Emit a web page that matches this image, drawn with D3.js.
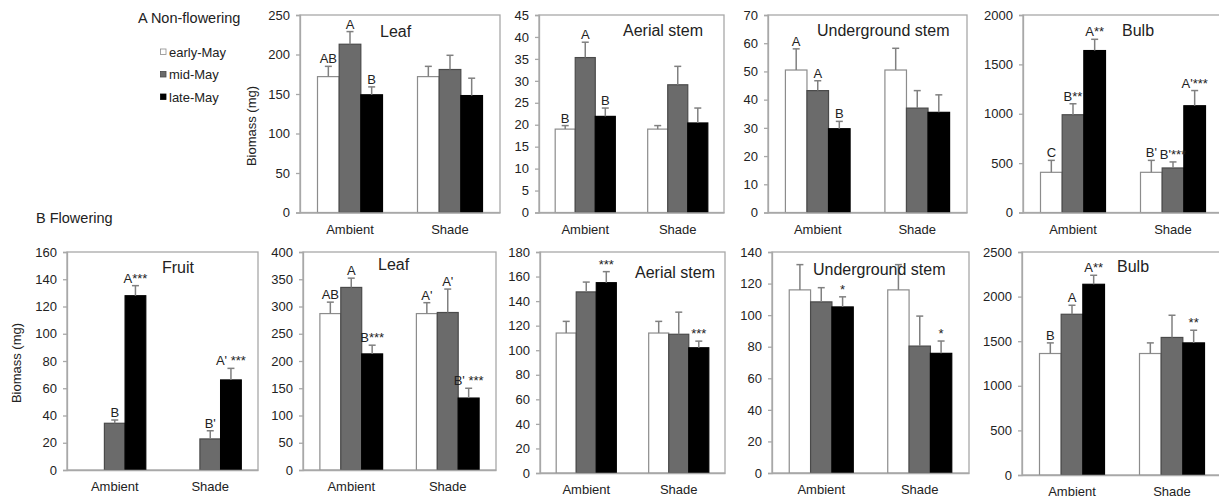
<!DOCTYPE html>
<html>
<head>
<meta charset="utf-8">
<script src="https://cdn.jsdelivr.net/npm/d3@7"></script>
<style>
  body { margin: 0; background: #fff; }
  svg text { font-family: "Liberation Sans", Arial, sans-serif; }
</style>
</head>
<body>
<div id="chart"></div>
<script>
// treatments and sampling dates
var groups = ["Ambient", "Shade"];
var periods = ["early-May", "mid-May", "late-May"];

// panel order: non-flowering leaf, aerial stem, underground stem, bulb,
// flowering fruit, leaf, aerial stem, underground stem, bulb
var panelTitles = ["Leaf", "Aerial stem", "Underground stem", "Bulb",
                   "Fruit", "Leaf", "Aerial stem", "Underground stem", "Bulb"];

var ambientMeans = [
  [172, 213, 149], [19, 35.3, 21.9], [50.5, 43.2, 29.7], [407, 990, 1640],
  [null, 34.3, 127.9], [287, 335, 213], [114, 147.5, 155], [116, 108.4, 105.2], [1362, 1802, 2138]
];
var ambientSE = [
  [13, 16, 10], [0.8, 3.5, 1.9], [7.5, 3.5, 2.6], [121, 111, 114],
  [null, 2.4, 7.4], [21, 17, 16], [9.5, 8, 9], [16, 9, 6.4], [119, 101, 101]
];
var shadeMeans = [
  [172, 181, 148], [19, 29.1, 20.4], [50.5, 37, 35.5], [407, 451, 1081],
  [null, 22.8, 66.1], [287, 289, 132], [114, 113, 102], [116, 80.4, 75.8], [1362, 1542, 1481]
];
var shadeSE = [
  [13, 18, 22], [0.8, 4.2, 3.4], [7.7, 6.2, 6.2], [121, 61, 154],
  [null, 6, 8.5], [20, 43, 18], [9.5, 18, 5.4], [16, 19, 7.8], [119, 249, 142]
];
var ambientLetters = [
  ["AB", "A", "B"], ["B", "A", "B"], ["A", "A", "B"], ["C", "B**", "A**"],
  ["", "B", "A***"], ["AB", "A", "B***"], ["", "", "***"], ["", "", "*"], ["B", "A", "A**"]
];
var shadeLetters = [
  ["", "", ""], ["", "", ""], ["", "", ""], ["B'", "B'***", "A'***"],
  ["", "B'", "A' ***"], ["A'", "A'", "B' ***"], ["", "", "***"], ["", "", "*"], ["", "", "**"]
];
var yTicks = [
  [0, 50, 100, 150, 200, 250],
  [0, 5, 10, 15, 20, 25, 30, 35, 40, 45],
  [0, 10, 20, 30, 40, 50, 60, 70],
  [0, 500, 1000, 1500, 2000],
  [0, 20, 40, 60, 80, 100, 120, 140, 160],
  [0, 50, 100, 150, 200, 250, 300, 350, 400],
  [0, 20, 40, 60, 80, 100, 120, 140, 160, 180],
  [0, 20, 40, 60, 80, 100, 120, 140],
  [0, 500, 1000, 1500, 2000, 2500]
];

// plot boxes on the page (layout only)
var boxes = [
  { x0: 300, x1: 500, y0: 15, y1: 212.5, tx: 380, ty: 37 },
  { x0: 539, x1: 724, y0: 15, y1: 212.5, tx: 623, ty: 36 },
  { x0: 768, x1: 967, y0: 15, y1: 212.5, tx: 817, ty: 36 },
  { x0: 1023, x1: 1223, y0: 15, y1: 212.5, tx: 1122, ty: 36 },
  { x0: 67, x1: 258, y0: 252, y1: 470, tx: 162, ty: 273 },
  { x0: 303, x1: 496, y0: 252, y1: 470, tx: 378, ty: 270 },
  { x0: 540, x1: 725, y0: 252, y1: 473, tx: 635, ty: 278 },
  { x0: 772, x1: 969, y0: 252, y1: 473, tx: 813, ty: 275 },
  { x0: 1022, x1: 1222, y0: 252, y1: 475, tx: 1117, ty: 272 }
];

var fills = { "early-May": "#ffffff", "mid-May": "#6b6b6b", "late-May": "#000000" };
var strokes = { "early-May": "#8c8c8c", "mid-May": "#4a4a4a", "late-May": "#000000" };
var frameColor = "#a8a8a8";

var svg = d3.select("#chart").append("svg")
  .attr("width", 1219)
  .attr("height", 500);

function drawPanel(i) {
  var b = boxes[i];
  var g = svg.append("g");

  var y = d3.scaleLinear()
    .domain([0, d3.max(yTicks[i])])
    .range([b.y1, b.y0]);

  var x = d3.scaleBand()
    .domain(groups)
    .range([b.x0, b.x1])
    .paddingInner(0.35)
    .paddingOuter(0.175);

  var xs = d3.scaleBand()
    .domain(periods)
    .range([0, x.bandwidth()]);

  // frame
  g.append("rect")
    .attr("x", b.x0).attr("y", b.y0)
    .attr("width", b.x1 - b.x0).attr("height", b.y1 - b.y0)
    .attr("fill", "none")
    .attr("stroke", frameColor)
    .attr("stroke-width", 1.3);

  var rows = [];
  groups.forEach(function (grp, gi) {
    var means = gi == 0 ? ambientMeans[i] : shadeMeans[i];
    var ses = gi == 0 ? ambientSE[i] : shadeSE[i];
    var letters = gi == 0 ? ambientLetters[i] : shadeLetters[i];
    periods.forEach(function (p, pi) {
      if (means[pi] == null) return;
      rows.push({ group: grp, period: p, mean: means[pi], se: ses[pi], label: letters[pi] });
    });
  });

  g.selectAll(".bar")
    .data(rows)
    .enter().append("rect")
    .attr("class", "bar")
    .attr("x", function (d) { return x(d.group) + xs(d.period); })
    .attr("y", function (d) { return y(d.mean); })
    .attr("width", xs.bandwidth())
    .attr("height", function (d) { return y(0) - y(d.mean); })
    .attr("fill", function (d) { return fills[d.period]; })
    .attr("stroke", function (d) { return strokes[d.period]; })
    .attr("stroke-width", 1.2);

  var cx = function (d) { return x(d.group) + xs(d.period) + xs.bandwidth() / 2; };

  // error bars (upper half only)
  g.selectAll(".err")
    .data(rows)
    .enter().append("line")
    .attr("class", "err")
    .attr("x1", cx).attr("x2", cx)
    .attr("y1", function (d) { return y(d.mean); })
    .attr("y2", function (d) { return y(d.mean + d.se); })
    .attr("stroke", "#808080")
    .attr("stroke-width", 1.5);

  g.selectAll(".cap")
    .data(rows)
    .enter().append("line")
    .attr("class", "cap")
    .attr("x1", function (d) { return cx(d) - 3.5; })
    .attr("x2", function (d) { return cx(d) + 3.5; })
    .attr("y1", function (d) { return y(d.mean + d.se); })
    .attr("y2", function (d) { return y(d.mean + d.se); })
    .attr("stroke", "#808080")
    .attr("stroke-width", 1.5);

  g.selectAll(".sig")
    .data(rows.filter(function (d) { return d.label != ""; }))
    .enter().append("text")
    .attr("class", "sig")
    .attr("x", cx)
    .attr("y", function (d) { return y(d.mean + d.se) - 3; })
    .attr("text-anchor", "middle")
    .attr("font-size", "13px")
    .attr("fill", "#222")
    .text(function (d) { return d.label; });

  // axes
  var ya = g.append("g")
    .attr("transform", "translate(" + b.x0 + ",0)")
    .call(d3.axisLeft(y).tickValues(yTicks[i]).tickFormat(d3.format("d")).tickSize(4).tickPadding(6));
  ya.selectAll("path, line").attr("stroke", frameColor).attr("stroke-width", 1.3);
  ya.selectAll("text").attr("font-size", "13px").attr("fill", "#222");

  var xa = g.append("g")
    .attr("transform", "translate(0," + b.y1 + ")")
    .call(d3.axisBottom(x).tickSize(0).tickPadding(12));
  xa.select(".domain").attr("stroke", frameColor).attr("stroke-width", 1.3);
  xa.selectAll("text").attr("font-size", "13px").attr("fill", "#222");

  g.append("text")
    .attr("x", b.tx)
    .attr("y", b.ty)
    .attr("font-size", "16px")
    .attr("fill", "#222")
    .text(panelTitles[i]);
}

for (var i = 0; i < panelTitles.length; i++) {
  drawPanel(i);
}

// row headings
svg.append("text").attr("x", 138).attr("y", 23)
  .attr("font-size", "14.5px").attr("fill", "#222").text("A Non-flowering");
svg.append("text").attr("x", 36).attr("y", 223)
  .attr("font-size", "14.5px").attr("fill", "#222").text("B Flowering");

// y titles
svg.append("text")
  .attr("transform", "translate(256,126) rotate(-90)")
  .attr("text-anchor", "middle")
  .attr("font-size", "13px").attr("fill", "#222")
  .text("Biomass (mg)");
svg.append("text")
  .attr("transform", "translate(21,363) rotate(-90)")
  .attr("text-anchor", "middle")
  .attr("font-size", "13px").attr("fill", "#222")
  .text("Biomass (mg)");

// legend
var legend = svg.append("g").attr("transform", "translate(160,52)");
var li = legend.selectAll("g")
  .data(periods)
  .enter().append("g")
  .attr("transform", function (d, k) { return "translate(0," + (k * 22.5) + ")"; });
li.append("rect")
  .attr("x", 0.5).attr("y", -3)
  .attr("width", 5.5).attr("height", 5.5)
  .attr("fill", function (d) { return fills[d]; })
  .attr("stroke", function (d) { return strokes[d]; })
  .attr("stroke-width", 0.8);
li.append("text")
  .attr("x", 9).attr("y", 4.5)
  .attr("font-size", "13px")
  .attr("fill", "#222")
  .text(function (d) { return d; });
</script>
</body>
</html>
